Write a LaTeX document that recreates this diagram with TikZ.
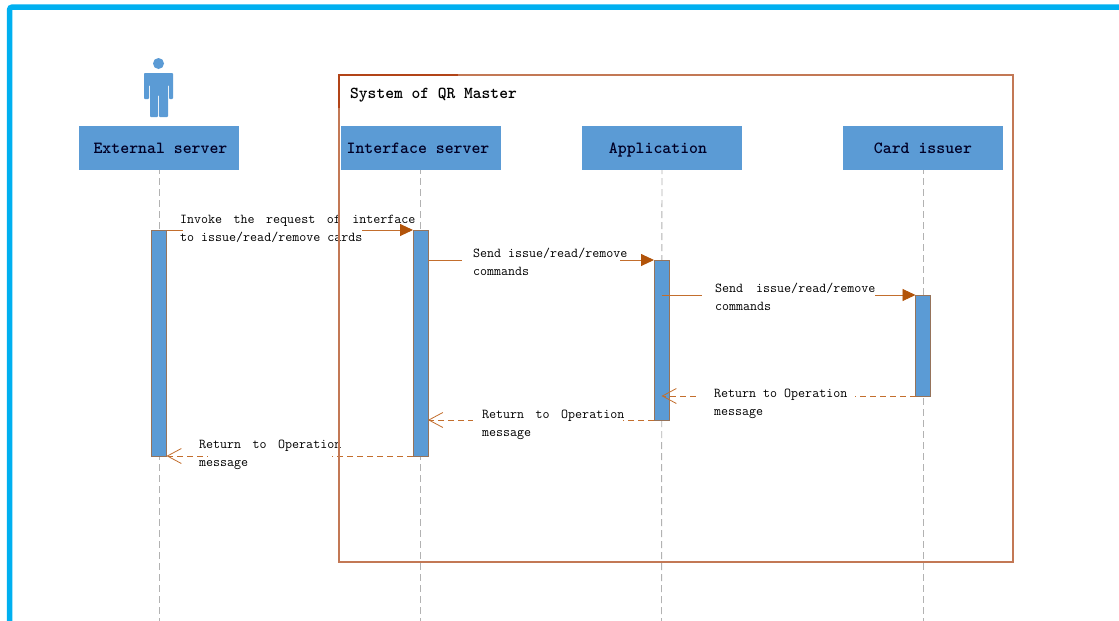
\documentclass[tikz,border=0pt]{standalone}
\usetikzlibrary{arrows.meta}
\definecolor{sideblue}{RGB}{0,176,240}
\definecolor{boxblue}{RGB}{91,155,213}
\definecolor{framebrown}{RGB}{195,120,85}
\definecolor{tabbrown}{RGB}{178,68,24}
\definecolor{barbrown}{RGB}{150,115,90}
\definecolor{msgbrown}{RGB}{195,110,45}
\definecolor{tipbrown}{RGB}{178,84,10}
\newcommand{\twolines}[4]{\makebox[#2][l]{\hspace*{#1}#3}\\\makebox[#2][l]{\hspace*{#1}#4}}
\newcommand{\gp}{\hspace{4.5pt}}
\tikzset{
  actor/.style={fill=boxblue,minimum width=160pt,minimum height=44pt,inner sep=0pt,outer sep=0pt,text height=12pt,text depth=1pt,font=\fontsize{17}{18}\selectfont\ttfamily\bfseries,text=black!85!blue},
  lifeline/.style={draw=black!30,dash pattern=on 7pt off 4pt,dash phase=3pt,line width=0.9pt},
  activebar/.style={draw=barbrown,fill=boxblue,line width=1pt,minimum width=15pt,inner sep=0pt,outer sep=0pt},
  msgcall/.style={draw=msgbrown,line width=0.9pt,-{Triangle[length=13pt,width=12pt,color=tipbrown]}},
  msgback/.style={draw=msgbrown,line width=0.9pt,dash pattern=on 6pt off 4pt,-{Straight Barb[length=14pt,width=15pt,line width=0.8pt]}},
  msglabel/.style={anchor=west,align=left,fill=white,inner sep=0pt,font=\fontsize{13.6}{18}\selectfont\ttfamily}
}
\begin{document}
\begin{tikzpicture}[x=1pt,y=-1pt]
\path[clip](0,0)rectangle(1119,621);
\fill[white](0,0)rectangle(1119,621);
\draw[sideblue,line width=5.5pt,rounded corners=3pt](9.5,7)rectangle(1200,700);
% actor on the left
\fill[boxblue](158.5,63.5)circle(5.5);
\fill[boxblue,rounded corners=0.8pt](144,99)--(144,73)--(173,73)--(173,99)--(169,99)--(169,85)--(168,85)--(168,117)--(159,117)--(159,95)--(158,95)--(158,117)--(150,117)--(150,85)--(149,85)--(149,99)--cycle;
% heads of the lifelines
\node[actor](extbox)at(159,148){\hspace*{3pt}External server};
\node[actor](ifacebox)at(420.5,148){Interface server\hspace*{5pt}};
\node[actor](appbox)at(662,148){Application\hspace*{8pt}};
\node[actor](cardbox)at(923,148){Card issuer};
\coordinate(extend)at(159,625);
\coordinate(ifaceend)at(420.5,625);
\coordinate(append)at(661.5,625);
\coordinate(cardend)at(923,625);
\draw[lifeline](extbox)--(extend);
\draw[lifeline](ifacebox)--(ifaceend);
\draw[lifeline](appbox)--(append);
\draw[lifeline](cardbox)--(cardend);
\node[activebar,minimum height=226pt](extbar)at(159,343){};
\node[activebar,minimum height=226pt](ifacebar)at(420.5,343){};
\node[activebar,minimum height=160pt](appbar)at(661.5,340){};
\node[activebar,minimum height=101pt](cardbar)at(923,345.5){};
% messages
\draw[msgcall](extbar.north east)--(ifacebar.north west);
\draw[msgcall](ifacebar.east|-appbar.north)--(appbar.north west);
\draw[msgcall](appbar.center|-cardbar.north)--(cardbar.north west);
\draw[msgback](cardbar.south west)--(appbar.center|-cardbar.south);
\draw[msgback](appbar.south west)--(ifacebar.east|-appbar.south);
\draw[msgback](ifacebar.south west)--(extbar.south east);
\node[msglabel](invoke)at(183,228.5){\twolines{-3pt}{179pt}{Invoke\gp{} the\gp{} request\gp{} of\gp{} interface}{to issue/read/remove cards}};
\node[msglabel](sendapp)at(462,261.5){\twolines{11pt}{158pt}{Send issue/read/remove}{commands}};
\node[msglabel](sendcard)at(702,296.5){\twolines{13pt}{173pt}{Send\hspace{6pt} issue/read/remove}{commands}};
\node[msglabel](retcard)at(700,403.5){\twolines{14pt}{155pt}{Return to Operation}{message}};
\node[msglabel](retapp)at(473,425){\twolines{9pt}{150pt}{Return\gp{} to\gp{} Operation}{message}};
\node[msglabel](retext)at(208,454.5){\twolines{-9pt}{124pt}{Return\gp{} to\gp{} Operation}{message}};
% system frame
\draw[framebrown,line width=1.1pt](339,75)rectangle(1013,562);
\draw[tabbrown,line width=1.5pt](339,108)--(339,75)--(458,75);
\node[anchor=west,inner sep=0pt,font=\fontsize{16.7}{18}\selectfont\ttfamily\bfseries](systitle)at(350,95.5){System of QR Master};
\end{tikzpicture}
\end{document}
